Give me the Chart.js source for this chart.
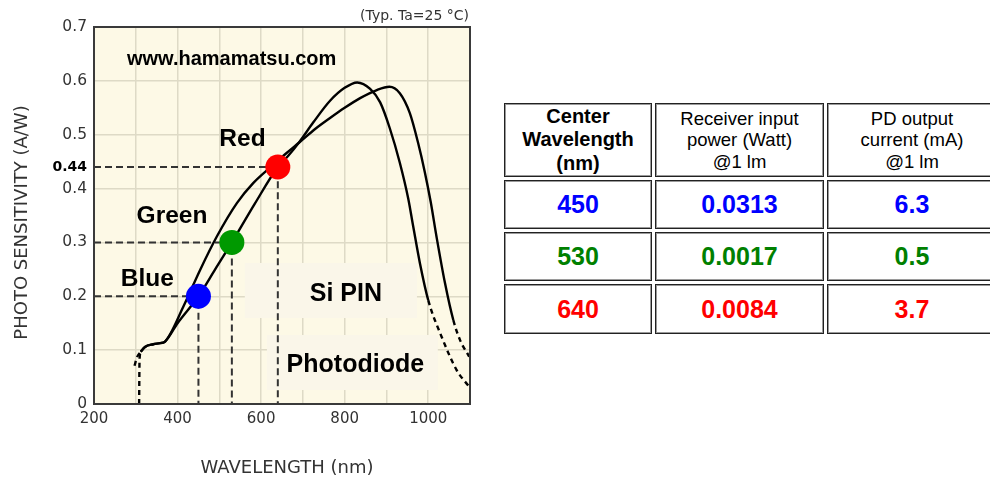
<!DOCTYPE html>
<html>
<head>
<meta charset="utf-8">
<script src="https://cdn.jsdelivr.net/npm/chart.js@4.4.1/dist/chart.umd.min.js"></script>
<style>
html,body{margin:0;padding:0;background:#fff;overflow:hidden;width:990px;height:481px;}
#wrap{position:absolute;left:0;top:0;width:490px;height:481px;}
#tbl{position:absolute;left:504px;top:103px;display:grid;grid-template-columns:148px 169px 170px;grid-template-rows:74px 49px 49px 50px;gap:3px;font-family:"Liberation Sans",Arial,sans-serif;}
.c{box-sizing:border-box;border:1px solid #222;box-shadow:inset 0 0 0 1px #9a9a9a;display:flex;align-items:center;justify-content:center;text-align:center;background:#fff;color:#000;}
.h1{font-weight:bold;font-size:20px;line-height:23.3px;}
.h2{font-size:18.5px;line-height:21.5px;}
.d{font-weight:bold;font-size:25px;}
</style>
</head>
<body>
<div id="wrap"><canvas id="chart"></canvas></div>
<div id="tbl"></div>
<script>
// ---------- data ----------
const xTickLabels = [200, 400, 600, 800, 1000];
const highlightTick = 0.44;

// Curve with the higher peak (~830 nm), passes through the three colour points
const curveA_x = [308, 309, 312, 322, 342, 358, 370, 400, 450, 490, 530, 585, 640, 665, 692, 725, 765, 800, 830, 861, 885, 908, 932, 952, 964, 980, 1000, 1032, 1068, 1098];
const curveA_y = [0, 0.082, 0.097, 0.106, 0.111, 0.113, 0.116, 0.150, 0.200, 0.250, 0.300, 0.372, 0.440, 0.461, 0.487, 0.523, 0.563, 0.587, 0.597, 0.585, 0.560, 0.512, 0.448, 0.382, 0.330, 0.262, 0.193, 0.125, 0.063, 0.032];
// Curve with the lower, longer-wavelength peak (~907 nm)
const curveB_x = [297, 303, 312, 322, 342, 358, 370, 414, 454, 494, 542, 581, 629, 661, 692, 730, 765, 800, 837, 877, 907, 932, 956, 976, 992, 1006, 1020, 1040, 1060, 1076, 1098];
const curveB_y = [0.071, 0.087, 0.097, 0.106, 0.111, 0.113, 0.116, 0.181, 0.249, 0.311, 0.373, 0.410, 0.444, 0.466, 0.486, 0.511, 0.531, 0.550, 0.568, 0.583, 0.589, 0.577, 0.540, 0.484, 0.430, 0.375, 0.310, 0.225, 0.156, 0.119, 0.088];

const solidStart = 312;      // dashed below this wavelength
const solidEndA = 1000;      // dashed beyond this wavelength
const solidEndB = 1060;

const markerNames = ['Blue', 'Green', 'Red'];
const markerX = [450, 530, 640];
const markerY = [0.2, 0.3, 0.44];

const tableHeaders = ['Center<br>Wavelength<br>(nm)', 'Receiver input<br>power (Watt)<br>@1 lm', 'PD output<br>current (mA)<br>@1 lm'];
const tableWavelength = ['450', '530', '640'];
const tablePower = ['0.0313', '0.0017', '0.0084'];
const tableCurrent = ['6.3', '0.5', '3.7'];

// ---------- styles ----------
const markerColors = ['#0000ff', '#009900', '#ff0000'];
const textColors = ['#0000ff', '#008000', '#ff0000'];
const REG = '"DejaVu Sans", sans-serif';
const ARIAL = '"Liberation Sans", Arial, sans-serif';

// ---------- table ----------
const tbl = document.getElementById('tbl');
tableHeaders.forEach((h, i) => {
  const d = document.createElement('div');
  d.className = 'c ' + (i === 0 ? 'h1' : 'h2');
  d.innerHTML = h;
  tbl.appendChild(d);
});
tableWavelength.forEach((w, r) => {
  [w, tablePower[r], tableCurrent[r]].forEach(v => {
    const d = document.createElement('div');
    d.className = 'c d';
    d.style.color = textColors[r];
    d.textContent = v;
    tbl.appendChild(d);
  });
});

// ---------- chart ----------
const toPts = (xs, ys) => xs.map((x, i) => ({x, y: ys[i]}));

const datasets = [];
datasets.push({
  data: toPts(markerX, markerY),
  showLine: false,
  pointRadius: 12.5,
  pointBorderWidth: 0,
  pointBackgroundColor: markerColors,
  pointHoverRadius: 12.5
});
function curve(xs, ys, endX) {
  return {
    data: toPts(xs, ys),
    borderColor: '#000',
    borderWidth: 2.4,
    pointRadius: 0,
    cubicInterpolationMode: 'monotone',
    segment: {
      borderDash: ctx => (ctx.p1.parsed.x <= solidStart || ctx.p0.parsed.x >= endX) ? [5, 4] : undefined
    }
  };
}
datasets.push(curve(curveA_x, curveA_y, solidEndA));
datasets.push(curve(curveB_x, curveB_y, solidEndB));
markerX.forEach((x, i) => {
  datasets.push({
    data: [{x: 200, y: markerY[i]}, {x: x, y: markerY[i]}, {x: x, y: 0}],
    borderColor: '#333',
    borderWidth: 2,
    borderDash: [7, 4],
    pointRadius: 0,
    tension: 0
  });
});

// annotation positions in data units
const labelPos = [
  {t: 'www.hamamatsu.com', x: 279, y: 0.629, font: 'bold 20px ' + ARIAL, align: 'left'},
  {t: markerNames[2], x: 500, y: 0.479, font: 'bold 24.5px ' + ARIAL, align: 'left'},
  {t: markerNames[1], x: 302, y: 0.3355, font: 'bold 24.5px ' + ARIAL, align: 'left'},
  {t: markerNames[0], x: 264, y: 0.219, font: 'bold 24.5px ' + ARIAL, align: 'left'}
];
const boxes = [
  {x0: 561, x1: 973, y0: 0.2618, y1: 0.1597, t: 'Si PIN', tx: 803, ty: 0.1918, align: 'center'},
  {x0: 614, x1: 1023, y0: 0.1281, y1: 0.026, t: 'Photodiode', tx: 661, ty: 0.06, align: 'left'}
];

const deco = {
  id: 'deco',
  beforeDraw(chart) {
    const {ctx, chartArea: a} = chart;
    ctx.save();
    ctx.fillStyle = '#fdf9e6';
    ctx.fillRect(a.left, a.top, a.right - a.left, a.bottom - a.top);
    ctx.restore();
  },
  beforeDatasetsDraw(chart) {
    const {ctx, scales: {x, y}} = chart;
    ctx.save();
    boxes.forEach(b => {
      const px0 = x.getPixelForValue(b.x0), px1 = x.getPixelForValue(b.x1);
      const py0 = y.getPixelForValue(b.y0), py1 = y.getPixelForValue(b.y1);
      ctx.fillStyle = '#faf6e9';
      ctx.fillRect(px0, py0, px1 - px0, py1 - py0);
      ctx.fillStyle = '#000';
      ctx.font = 'bold 25px ' + ARIAL;
      ctx.textAlign = b.align;
      ctx.textBaseline = 'alphabetic';
      ctx.fillText(b.t, x.getPixelForValue(b.tx), y.getPixelForValue(b.ty));
    });
    ctx.restore();
  },
  afterDatasetsDraw(chart) {
    const {ctx, chartArea: a, scales: {x, y}} = chart;
    ctx.save();
    ctx.textBaseline = 'alphabetic';
    ctx.fillStyle = '#000';
    labelPos.forEach(l => {
      ctx.font = l.font;
      ctx.textAlign = l.align;
      ctx.fillText(l.t, x.getPixelForValue(l.x), y.getPixelForValue(l.y));
    });
    ctx.strokeStyle = '#3a3a3a';
    ctx.lineWidth = 2;
    ctx.strokeRect(a.left, a.top, a.right - a.left, a.bottom - a.top);
    ctx.restore();
  },
  afterDraw(chart) {
    const {ctx, chartArea: a} = chart;
    ctx.save();
    ctx.fillStyle = '#333';
    ctx.textBaseline = 'alphabetic';
    ctx.font = '14px ' + REG;
    ctx.textAlign = 'right';
    ctx.fillText('(Typ. Ta=25 \u00B0C)', a.right - 1, a.top - 7);
    ctx.font = '18px ' + REG;
    ctx.textAlign = 'center';
    ctx.fillText('WAVELENGTH (nm)', (a.left + a.right) / 2 + 5, a.bottom + 69);
    ctx.translate(26.5, (a.top + a.bottom) / 2 + 7);
    ctx.rotate(-Math.PI / 2);
    ctx.font = '18px ' + REG;
    ctx.fillText('PHOTO SENSITIVITY (A/W)', 0, 0);
    ctx.restore();
  }
};

new Chart(document.getElementById('chart'), {
  type: 'line',
  data: {datasets},
  plugins: [deco],
  options: {
    responsive: true,
    maintainAspectRatio: false,
    animation: false,
    events: [],
    layout: {padding: {left: 0, top: 27, right: 20, bottom: 0}},
    plugins: {legend: {display: false}, tooltip: {enabled: false}},
    scales: {
      x: {
        type: 'linear', min: 200, max: 1100,
        afterFit: s => { s.height = 77; },
        border: {display: false},
        grid: {color: '#dedac6', lineWidth: 1.5, drawTicks: false},
        ticks: {
          stepSize: 100, autoSkip: false, maxRotation: 0, padding: 6,
          color: '#333', font: {family: REG, size: 15},
          callback: v => xTickLabels.includes(v) ? String(v) : ''
        }
      },
      y: {
        type: 'linear', min: 0, max: 0.7,
        afterFit: s => { s.width = 94; },
        afterBuildTicks: s => {
          s.ticks.push({value: highlightTick});
          s.ticks.sort((a, b) => a.value - b.value);
        },
        border: {display: false},
        grid: {
          drawTicks: false, lineWidth: 1.5,
          color: c => (c.tick && c.tick.value === highlightTick) ? 'rgba(0,0,0,0)' : '#dedac6'
        },
        ticks: {
          stepSize: 0.1, padding: 7, autoSkip: false,
          color: c => (c.tick && c.tick.value === highlightTick) ? '#000' : '#333',
          font: c => (c.tick && c.tick.value === highlightTick) ? {family: REG, size: 14, weight: 'bold'} : {family: REG, size: 15.5},
          callback: v => v === 0 ? '0' : (v === highlightTick ? v.toFixed(2) : v.toFixed(1))
        }
      }
    }
  }
});
</script>
</body>
</html>
